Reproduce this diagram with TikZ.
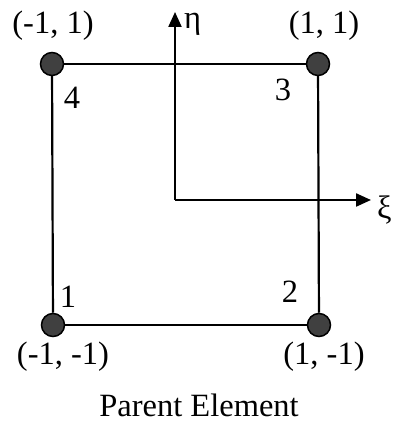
\documentclass[tikz,border=0pt]{standalone}
\usepackage{fontspec}
\setmainfont{Liberation Serif}
\usetikzlibrary{arrows.meta,positioning}
\tikzset{
  nd style/.style={circle, draw=black, fill=black!75, line width=1.5pt, inner sep=0pt, minimum size=23pt},
  edge style/.style={line width=2.2pt},
  axis style/.style={line width=2.2pt, -{Triangle[length=15pt, width=13pt]}},
  lbl style/.style={font=\fontsize{32.5}{34}\selectfont, inner sep=0pt}
}
\begin{document}
\begin{tikzpicture}[x=1pt, y=1pt]
\useasboundingbox (0,0) rectangle (400,427);
% corner nodes
\node[nd style] (n1) at (53,102) {};
\node[nd style] (n2) at (319,102) {};
\node[nd style] (n3) at (318,363) {};
\node[nd style] (n4) at (52,363) {};
\draw[edge style] (n1)--(n2);
\draw[edge style] (n2)--(n3);
\draw[edge style] (n3)--(n4);
\draw[edge style] (n4)--(n1);
% local axes
\coordinate (o) at (175,227);
\coordinate (xiend) at (371,227);
\coordinate (etaend) at (175,415);
\draw[axis style] (o)--(xiend);
\draw[axis style] (o)--(etaend);
\node[lbl style, right=6pt of xiend, yshift=-10pt] (xi) {ξ};
\node[lbl style, anchor=west] (eta) at (184,403) {η};
% labels
\node[lbl style] (c4) at (53,401) {(-1, 1)};
\node[lbl style] (c3) at (324,401) {(1, 1)};
\node[lbl style] (c1) at (63,70) {(-1, -1)};
\node[lbl style] (c2) at (324,70) {(1, -1)};
\node[lbl style] (k4) at (72,329) {4};
\node[lbl style] (k3) at (283,337) {3};
\node[lbl style] (k1) at (68,130) {1};
\node[lbl style] (k2) at (290,135) {2};
\node[lbl style] (title) at (199,22) {Parent Element};
\end{tikzpicture}
\end{document}
